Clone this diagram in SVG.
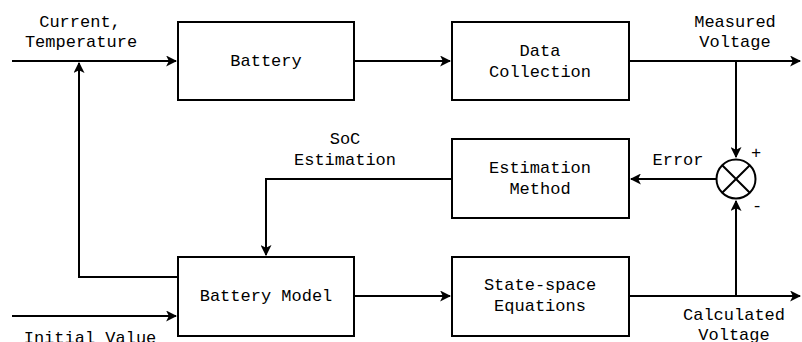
<svg xmlns="http://www.w3.org/2000/svg" width="802" height="342" viewBox="0 0 802 342">
  <defs>
    <marker id="arrow" viewBox="0 0 10 10" refX="9" refY="5" markerWidth="5.5" markerHeight="5.5" orient="auto" markerUnits="strokeWidth">
      <path d="M0,0 L10,5 L0,10 L2.5,5 Z" fill="#000"/>
    </marker>
    <style>
      .box { fill: #fff; stroke: #000; stroke-width: 2; }
      .wire { fill: none; stroke: #000; stroke-width: 2; }
      .lbl { font-family: "Liberation Mono", "DejaVu Sans Mono", monospace; font-size: 17px; fill: #000; text-anchor: middle; }
    </style>
  </defs>
  <rect width="802" height="342" fill="#fff"/>

  <g id="connectors">
    <path class="wire" d="M12,61 H176" marker-end="url(#arrow)"/>
    <path class="wire" d="M354,61 H450" marker-end="url(#arrow)"/>
    <path class="wire" d="M629,61 H800" marker-end="url(#arrow)"/>
    <path class="wire" d="M736,61 V157" marker-end="url(#arrow)"/>
    <path class="wire" d="M716.5,179 H631" marker-end="url(#arrow)"/>
    <path class="wire" d="M452,179 H266 V255" marker-end="url(#arrow)"/>
    <path class="wire" d="M178,277 H79 V63" marker-end="url(#arrow)"/>
    <path class="wire" d="M12,316 H176" marker-end="url(#arrow)"/>
    <path class="wire" d="M354,296 H450" marker-end="url(#arrow)"/>
    <path class="wire" d="M629,296 H800" marker-end="url(#arrow)"/>
    <path class="wire" d="M736,296 V201" marker-end="url(#arrow)"/>
  </g>

  <g id="battery">
    <rect class="box" x="178" y="22" width="176" height="78"/>
    <text class="lbl" x="266" y="66">Battery</text>
  </g>
  <g id="data-collection">
    <rect class="box" x="452" y="22" width="177" height="78"/>
    <text class="lbl" x="540" y="56">Data</text>
    <text class="lbl" x="540" y="77">Collection</text>
  </g>
  <g id="estimation-method">
    <rect class="box" x="452" y="139" width="177" height="79"/>
    <text class="lbl" x="540" y="173">Estimation</text>
    <text class="lbl" x="540" y="194">Method</text>
  </g>
  <g id="battery-model">
    <rect class="box" x="178" y="257" width="176" height="79"/>
    <text class="lbl" x="266" y="301">Battery Model</text>
  </g>
  <g id="state-space">
    <rect class="box" x="452" y="257" width="177" height="79"/>
    <text class="lbl" x="540" y="290">State-space</text>
    <text class="lbl" x="540" y="311">Equations</text>
  </g>
  <g id="summing-junction">
    <circle class="box" cx="736" cy="179" r="19.5"/>
    <path class="wire" d="M722.2,165.2 L749.8,192.8 M749.8,165.2 L722.2,192.8"/>
    <text class="lbl" x="756" y="158">+</text>
    <text class="lbl" x="757" y="211">-</text>
  </g>

  <g id="labels">
    <text class="lbl" x="80" y="27">Current,</text>
    <text class="lbl" x="81" y="47">Temperature</text>
    <text class="lbl" x="735" y="27">Measured</text>
    <text class="lbl" x="735" y="47">Voltage</text>
    <text class="lbl" x="678" y="165">Error</text>
    <text class="lbl" x="345" y="144">SoC</text>
    <text class="lbl" x="345" y="165">Estimation</text>
    <text class="lbl" x="734" y="320">Calculated</text>
    <text class="lbl" x="734" y="340">Voltage</text>
    <text class="lbl" x="90" y="343">Initial Value</text>
  </g>
</svg>
